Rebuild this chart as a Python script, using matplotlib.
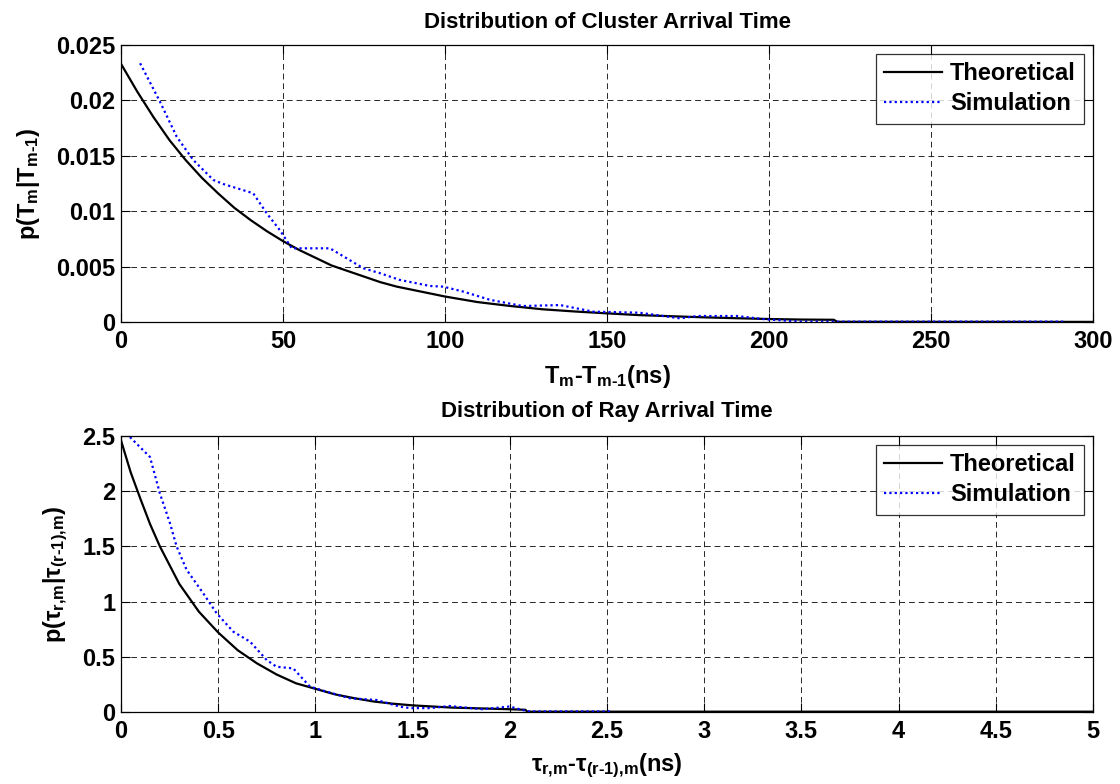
import numpy as np
import matplotlib
matplotlib.use('Agg')
import matplotlib.pyplot as plt

# cluster arrival time (ns) -- theoretical and simulated pdf
clu_t_theo = [0, 5, 10, 15, 20, 25, 30, 35, 40, 45, 50, 55, 60, 65, 70, 75, 80, 85,
              90, 95, 100, 110, 120, 130, 140, 150, 160, 170, 180, 190, 200, 210,
              220, 221, 300]
clu_p_theo = [0.0233, 0.0208, 0.0185, 0.0164, 0.0146, 0.0130, 0.0116, 0.0103, 0.0092,
              0.0082, 0.0073, 0.0065, 0.0058, 0.0051, 0.0046, 0.0041, 0.0036, 0.0032,
              0.0029, 0.0026, 0.0023, 0.0018, 0.00145, 0.00115, 0.00095, 0.00078,
              0.00062, 0.00052, 0.00042, 0.00034, 0.00027, 0.00022, 0.0002, 0.00002,
              0.00001]
clu_t_sim = [5.9, 12, 17.2, 22.3, 28.5, 31.6, 40.8, 45, 49, 52.7, 64.5, 74.8, 80, 86,
             95.4, 99.5, 105.7, 113.9, 124, 135.5, 145.8, 160, 172.5, 178, 190, 199,
             210, 291]
clu_p_sim = [0.02335, 0.0199, 0.01672, 0.01462, 0.01282, 0.01245, 0.01162, 0.0098,
             0.0083, 0.00665, 0.00665, 0.00485, 0.0044, 0.0038, 0.00325, 0.00319,
             0.00274, 0.002, 0.00144, 0.00153, 0.00093, 0.00084, 0.00033, 0.00054,
             0.00054, 0.00024, 0.00003, 0.00003]

# ray arrival time (ns)
ray_t_theo = [0, 0.05, 0.1, 0.15, 0.2, 0.3, 0.4, 0.5, 0.6, 0.7, 0.8, 0.9, 1.0, 1.1,
              1.2, 1.3, 1.4, 1.5, 1.6, 1.7, 1.8, 1.9, 2.0, 2.08, 2.09, 5]
ray_p_theo = [2.46, 2.17, 1.93, 1.70, 1.50, 1.16, 0.91, 0.72, 0.56, 0.44, 0.34, 0.26,
              0.21, 0.16, 0.125, 0.095, 0.075, 0.06, 0.05, 0.04, 0.035, 0.03, 0.025,
              0.02, 0.003, 0.003]
ray_t_sim = [0.046, 0.149, 0.2, 0.252, 0.286, 0.337, 0.423, 0.492, 0.578, 0.664, 0.75,
             0.80, 0.886, 0.972, 1.058, 1.178, 1.315, 1.435, 1.49, 1.59, 1.69, 1.86,
             2.0, 2.06, 2.1, 2.52]
ray_p_sim = [2.49, 2.31, 1.98, 1.71, 1.50, 1.29, 1.075, 0.894, 0.727, 0.637, 0.47,
             0.41, 0.395, 0.23, 0.184, 0.124, 0.109, 0.048, 0.035, 0.035, 0.054, 0.025,
             0.05, 0.02, 0.005, 0.005]

FS = 17
plt.rcParams['font.family'] = ['Liberation Sans', 'DejaVu Sans']
plt.rcParams['font.weight'] = 'bold'
plt.rcParams['font.size'] = FS
plt.rcParams['mathtext.fontset'] = 'custom'
plt.rcParams['mathtext.rm'] = 'Liberation Sans:bold'
plt.rcParams['mathtext.bf'] = 'Liberation Sans:bold'
plt.rcParams['mathtext.it'] = 'Liberation Sans:bold'


def style_axes(ax, xticks, xlabels, yticks, ylabels):
    ax.set_xticks(xticks)
    ax.set_xticklabels(xlabels, fontweight='bold')
    ax.set_yticks(yticks)
    ax.set_yticklabels(ylabels, fontweight='bold')
    ax.set_xlim(xticks[0], xticks[-1])
    ax.set_ylim(yticks[0], yticks[-1])
    ax.tick_params(direction='in', length=6.5, width=0.8, top=True, right=True)
    ax.tick_params(axis='x', pad=6)
    ax.tick_params(axis='y', pad=4)
    for s in ax.spines.values():
        s.set_linewidth(0.9)
    ax.grid(True, color='0.15', linestyle=(0, (6, 4)), linewidth=0.7)
    ax.set_axisbelow(True)
    leg = ax.legend(loc='upper right', fancybox=False, edgecolor='black',
                    handlelength=2.45, handletextpad=0.35, borderaxespad=0.38,
                    borderpad=0.35, labelspacing=0.3,
                    prop={'weight': 'bold', 'size': FS})
    leg.get_frame().set_linewidth(0.9)


fig = plt.figure(figsize=(11.2, 7.84), dpi=100)
W, H = 1120.0, 784.0
ax1 = fig.add_axes([121 / W, 1 - 322 / H, 972 / W, 277 / H])
ax2 = fig.add_axes([121 / W, 1 - 712 / H, 972 / W, 276 / H])

dots = (1, 1.4)
ax1.plot(clu_t_theo, clu_p_theo, color='black', lw=1.6, label='Theoretical')
ax1.plot(clu_t_sim, clu_p_sim, color='blue', lw=1.6, dashes=dots, label='Simulation')
style_axes(ax1, np.arange(0, 301, 50), ['0', '50', '100', '150', '200', '250', '300'],
           np.arange(0, 0.0251, 0.005), ['0', '0.005', '0.01', '0.015', '0.02', '0.025'])
ax1.set_title('Distribution of Cluster Arrival Time', fontweight='bold', fontsize=FS - 1, pad=12)
ax1.set_xlabel(r'T$_\text{m}$-T$_\text{m-1}$(ns)', fontweight='bold', labelpad=7)
ax1.set_ylabel(r'p(T$_\text{m}$|T$_\text{m-1}$)', fontweight='bold', labelpad=10)

ax2.plot(ray_t_theo, ray_p_theo, color='black', lw=1.6, label='Theoretical')
ax2.plot(ray_t_sim, ray_p_sim, color='blue', lw=1.6, dashes=dots, label='Simulation')
style_axes(ax2, np.arange(0, 5.01, 0.5),
           ['0', '0.5', '1', '1.5', '2', '2.5', '3', '3.5', '4', '4.5', '5'],
           np.arange(0, 2.51, 0.5), ['0', '0.5', '1', '1.5', '2', '2.5'])
ax2.set_title('Distribution of Ray Arrival Time', fontweight='bold', fontsize=FS - 1, pad=14)
ax2.set_xlabel(r'$\tau_\text{r,m}$-$\tau_\text{(r-1),m}$(ns)', fontweight='bold', labelpad=6)
ax2.set_ylabel(r'p($\tau_\text{r,m}$|$\tau_\text{(r-1),m}$)', fontweight='bold', labelpad=9)

fig.savefig('out.png', dpi=100)
